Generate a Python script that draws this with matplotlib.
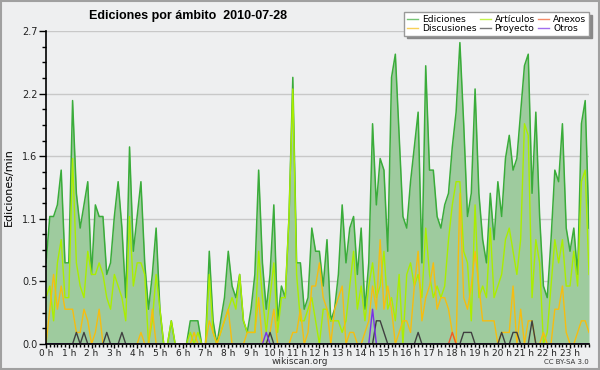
import matplotlib
matplotlib.use("Agg")
import matplotlib.pyplot as plt
import matplotlib.ticker as ticker
from matplotlib.patches import Rectangle
import numpy as np

# 10-minute bins, edits per minute
ediciones = [0.7, 1.1, 1.1, 1.2, 1.5, 0.7, 0.7, 2.1, 1.3, 1.0,
             1.2, 1.4, 0.6, 1.2, 1.1, 1.1, 0.6, 0.7, 1.1, 1.4,
             1.0, 0.4, 1.7, 0.8, 1.1, 1.4, 0.7, 0.3, 0.6, 1.0,
             0.3, 0.0, 0.0, 0.2, 0.0, 0.0, 0.0, 0.0, 0.2, 0.2,
             0.2, 0.0, 0.0, 0.8, 0.2, 0.0, 0.2, 0.4, 0.8, 0.5,
             0.4, 0.6, 0.2, 0.1, 0.3, 0.6, 1.5, 0.7, 0.3, 0.6,
             1.2, 0.2, 0.5, 0.4, 1.1, 2.3, 0.7, 0.7, 0.3, 0.4,
             1.0, 0.8, 0.8, 0.5, 0.9, 0.2, 0.3, 0.6, 1.2, 0.7,
             1.0, 1.1, 0.6, 1.0, 0.3, 0.7, 1.9, 1.2, 1.6, 1.5,
             0.8, 2.3, 2.5, 1.8, 1.1, 1.0, 1.4, 1.7, 2.0, 0.7,
             2.4, 1.5, 1.5, 1.1, 1.0, 1.2, 1.3, 1.7, 2.0, 2.6,
             1.9, 1.1, 1.3, 2.2, 1.3, 0.9, 0.7, 1.3, 0.9, 1.4,
             1.1, 1.6, 1.8, 1.5, 1.6, 2.0, 2.4, 2.5, 1.3, 2.0,
             1.1, 0.5, 0.4, 0.9, 1.5, 1.4, 1.9, 1.0, 0.8, 1.0,
             0.6, 1.9, 2.1, 1.0]

articulos = [0.4, 0.5, 0.2, 0.7, 0.9, 0.4, 0.4, 1.6, 0.7, 0.5,
             0.4, 0.8, 0.6, 0.6, 0.7, 0.6, 0.4, 0.3, 0.6, 0.5,
             0.4, 0.2, 1.1, 0.5, 0.7, 0.7, 0.6, 0.0, 0.2, 0.6,
             0.3, 0.0, 0.0, 0.2, 0.0, 0.0, 0.0, 0.0, 0.1, 0.0,
             0.1, 0.0, 0.0, 0.6, 0.1, 0.0, 0.1, 0.2, 0.3, 0.4,
             0.3, 0.6, 0.2, 0.1, 0.1, 0.1, 0.8, 0.4, 0.1, 0.4,
             0.7, 0.1, 0.4, 0.4, 1.1, 2.2, 0.6, 0.2, 0.2, 0.3,
             0.4, 0.2, 0.0, 0.3, 0.3, 0.2, 0.2, 0.2, 0.1, 0.2,
             0.5, 0.8, 0.3, 0.5, 0.2, 0.5, 0.7, 0.4, 0.5, 0.8,
             0.3, 0.4, 0.2, 0.6, 0.0, 0.6, 0.7, 0.5, 0.6, 0.4,
             1.0, 0.6, 0.4, 0.5, 0.4, 0.5, 0.9, 1.2, 1.4, 1.4,
             0.8, 0.7, 0.2, 1.2, 0.4, 0.5, 0.4, 1.0, 0.4, 0.5,
             0.6, 0.9, 1.0, 0.8, 0.6, 0.9, 1.9, 1.8, 0.4, 0.9,
             0.7, 0.0, 0.1, 0.5, 0.9, 0.7, 0.9, 0.5, 0.5, 0.8,
             0.5, 1.4, 1.5, 0.6]

discusiones = [0.0, 0.3, 0.6, 0.3, 0.5, 0.3, 0.3, 0.3, 0.1, 0.1,
               0.3, 0.2, 0.0, 0.1, 0.3, 0.0, 0.0, 0.0, 0.0, 0.0,
               0.0, 0.0, 0.0, 0.0, 0.0, 0.1, 0.0, 0.0, 0.3, 0.0,
               0.0, 0.0, 0.0, 0.0, 0.0, 0.0, 0.0, 0.0, 0.0, 0.1,
               0.0, 0.0, 0.0, 0.2, 0.1, 0.0, 0.1, 0.2, 0.3, 0.0,
               0.0, 0.0, 0.0, 0.1, 0.1, 0.1, 0.4, 0.0, 0.0, 0.1,
               0.3, 0.0, 0.0, 0.0, 0.0, 0.1, 0.1, 0.3, 0.0, 0.1,
               0.5, 0.5, 0.7, 0.4, 0.3, 0.0, 0.3, 0.4, 0.5, 0.0,
               0.1, 0.1, 0.0, 0.0, 0.1, 0.2, 0.5, 0.3, 0.9, 0.3,
               0.5, 0.3, 0.0, 0.1, 0.2, 0.2, 0.1, 0.5, 0.8, 0.2,
               0.4, 0.5, 0.7, 0.3, 0.4, 0.4, 0.3, 0.1, 0.0, 1.3,
               0.4, 0.3, 0.5, 0.8, 0.5, 0.2, 0.2, 0.2, 0.2, 0.0,
               0.1, 0.1, 0.1, 0.5, 0.0, 0.3, 0.0, 0.2, 0.2, 0.0,
               0.0, 0.1, 0.0, 0.0, 0.3, 0.3, 0.5, 0.1, 0.0, 0.0,
               0.1, 0.2, 0.2, 0.1]

# sparse series: bin index -> value
proyecto_pts = {8: 0.1, 10: 0.1, 16: 0.1, 20: 0.1, 59: 0.1, 87: 0.2, 88: 0.2,
                89: 0.1, 98: 0.1, 110: 0.1, 111: 0.1, 112: 0.1, 120: 0.1,
                123: 0.1, 124: 0.1, 128: 0.2}
anexos_pts = {107: 0.1}
otros_pts = {58: 0.1, 86: 0.3}

hour_labels = ["%d h" % h for h in range(24)]

n = len(ediciones)
x = np.arange(n) / 6.0


def sparse(pts):
    arr = np.zeros(n)
    for k, v in pts.items():
        arr[k] = v
    return arr


proyecto = sparse(proyecto_pts)
anexos = sparse(anexos_pts)
otros = sparse(otros_pts)

bg = "#eeeff0"
fig = plt.figure(figsize=(6, 3.7), dpi=100, facecolor=bg)
ax = fig.add_axes([46 / 600, 26 / 370, 543 / 600, 313 / 370])
ax.set_facecolor(bg)

ax.fill_between(x, 0, ediciones, color="#9ecb9e", lw=0)
l1, = ax.plot(x, ediciones, color="#3aac3a", lw=1.1)
l2, = ax.plot(x, articulos, color="#aaee00", lw=1.0)
l3, = ax.plot(x, discusiones, color="#f6bd10", lw=1.0)
l5, = ax.plot(x, anexos, color="#f05a28", lw=1.0)
l4, = ax.plot(x, proyecto, color="#404040", lw=1.0)
l6, = ax.plot(x, otros, color="#7a30e8", lw=1.0)

ax.set_xlim(0, x[-1])
ax.set_ylim(0, 2.7)

ax.yaxis.set_major_locator(ticker.FixedLocator(np.linspace(0, 2.7, 6)))
ax.yaxis.set_minor_locator(ticker.MultipleLocator(0.135))
ax.yaxis.set_major_formatter(ticker.FormatStrFormatter("%.1f"))
ax.xaxis.set_major_locator(ticker.FixedLocator(range(24)))
ax.xaxis.set_major_formatter(ticker.FixedFormatter(hour_labels))
ax.xaxis.set_minor_locator(ticker.MultipleLocator(1 / 6.0))

ax.grid(axis="y", color="#c8c8c8", lw=1)
ax.set_axisbelow(True)
for s in ["top", "right"]:
    ax.spines[s].set_visible(False)
ax.spines["left"].set_linewidth(1.2)
ax.spines["bottom"].set_linewidth(1.2)
ax.tick_params(axis="y", which="major", labelsize=7, length=5, width=1,
               color="black", labelcolor="#222222", pad=1)
ax.tick_params(axis="y", which="minor", length=3, width=1, color="black")
ax.tick_params(axis="x", which="major", labelsize=6.5, length=3, width=1,
               color="black", labelcolor="#222222", pad=0.5)
ax.tick_params(axis="x", which="minor", length=2.5, width=1, color="black")

ax.set_ylabel("Ediciones/min", fontsize=8)
ax.yaxis.set_label_coords(-0.06, 0.5)

fig.text(188 / 600, 1 - 16 / 370, "Ediciones por ámbito  2010-07-28",
         ha="center", va="center", fontsize=9, fontweight="bold",
         family="Liberation Sans")

leg = fig.legend([l1, l3, l2, l4, l5, l6],
                 ["Ediciones", "Discusiones", "Artículos", "Proyecto", "Anexos", "Otros"],
                 ncol=3, loc="upper right", bbox_to_anchor=(589 / 600, 1 - 12 / 370),
                 fontsize=6.6, frameon=True, fancybox=False, shadow={"color": "#888888", "alpha": 1},
                 handlelength=1.2, handletextpad=0.4, columnspacing=0.4,
                 labelspacing=0.0, borderpad=0.3, borderaxespad=0)
leg.get_frame().set_edgecolor("#999999")
leg.get_frame().set_facecolor("white")
leg.get_frame().set_alpha(1)
for h in leg.get_lines():
    h.set_alpha(0.7)
    h.set_linewidth(1)

fig.text(300 / 600, 1 - 362 / 370, "wikiscan.org", ha="center", va="center",
         fontsize=6.5, color="#333333")
fig.text(589 / 600, 1 - 362 / 370, "CC BY-SA 3.0", ha="right", va="center",
         fontsize=5, color="#333333")

fig.patches.append(Rectangle((0.001, 0.002), 0.997, 0.995, transform=fig.transFigure,
                             fill=False, edgecolor="#a0a0a0", lw=1.5))

fig.savefig("out.png", dpi=100, facecolor=bg)
